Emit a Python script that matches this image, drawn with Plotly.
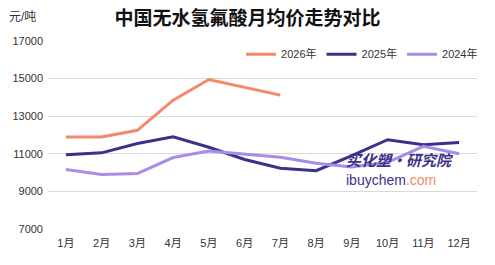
import plotly.graph_objects as go

months = ["1月", "2月", "3月", "4月", "5月", "6月", "7月", "8月", "9月", "10月", "11月", "12月"]
y2026 = [11900, 11900, 12250, 13850, 14950, 14550, 14120]
y2025 = [10950, 11050, 11550, 11900, 11350, 10700, 10230, 10100, 10900, 11750, 11480, 11600]
y2024 = [10170, 9900, 9950, 10800, 11150, 11000, 10820, 10500, 10300, 10550, 11400, 11000]
yticks = [7000, 9000, 11000, 13000, 15000, 17000]
yticklabels = ["7000", "9000", "11000", "13000", "15000", "17000"]

font_fam = "Liberation Sans, Noto Sans CJK SC, sans-serif"
c2026 = "#F2896A"
c2025 = "#3A3189"
c2024 = "#A98CE8"

fig = go.Figure()
fig.add_trace(go.Scatter(x=months[:len(y2026)], y=y2026, name="2026年", mode="lines",
                         line=dict(color=c2026, width=3)))
fig.add_trace(go.Scatter(x=months, y=y2025, name="2025年", mode="lines",
                         line=dict(color=c2025, width=3)))
fig.add_trace(go.Scatter(x=months, y=y2024, name="2024年", mode="lines",
                         line=dict(color=c2024, width=3)))

fig.update_layout(
    width=495, height=265,
    margin=dict(l=48, r=15, t=41, b=36),
    paper_bgcolor="white", plot_bgcolor="white",
    font=dict(family=font_fam, size=11, color="#333333"),
    title=dict(text="<b>中国无水氢氟酸月均价走势对比</b>", x=0.5, xanchor="center",
               y=0.93, yanchor="middle",
               font=dict(family="Noto Sans CJK SC", size=19, color="#111111")),
    showlegend=True,
    legend=dict(orientation="h", x=0.45, xanchor="left", y=0.93, yanchor="middle",
                bgcolor="rgba(0,0,0,0)", font=dict(size=11, color="#333333"),
                itemwidth=30, tracegroupgap=0),
    xaxis=dict(type="category", categoryarray=months, categoryorder="array",
               range=[-0.5, 11.5], showgrid=False, showline=False, ticks="",
               ticklabelstandoff=6,
               tickfont=dict(size=11, color="#333333")),
    yaxis=dict(range=[7000, 17000], tickvals=yticks, ticktext=yticklabels, showgrid=True,
               gridcolor="#DADADA", gridwidth=1, zeroline=False, showline=False,
               ticks="", ticklabelstandoff=4, tickfont=dict(size=11, color="#333333")),
    annotations=[
        dict(text="元/吨", xref="paper", yref="paper", x=-0.095, y=1.13,
             xanchor="left", yanchor="middle", showarrow=False,
             font=dict(size=12, color="#333333")),
        dict(text="<b><i>买化塑·研究院</i></b>", xref="paper", yref="paper",
             x=0.82, y=0.37, xanchor="center", yanchor="middle", showarrow=False,
             font=dict(size=15, color="#3A3189", family="Noto Sans CJK SC")),
        dict(text="<span style='color:#3A3189'>ibuychem</span><span style='color:#F2896A'>.com</span>",
             xref="paper", yref="paper", x=0.80, y=0.26, xanchor="center",
             yanchor="middle", showarrow=False, font=dict(size=14)),
    ],
)

fig.write_html("out.html")
